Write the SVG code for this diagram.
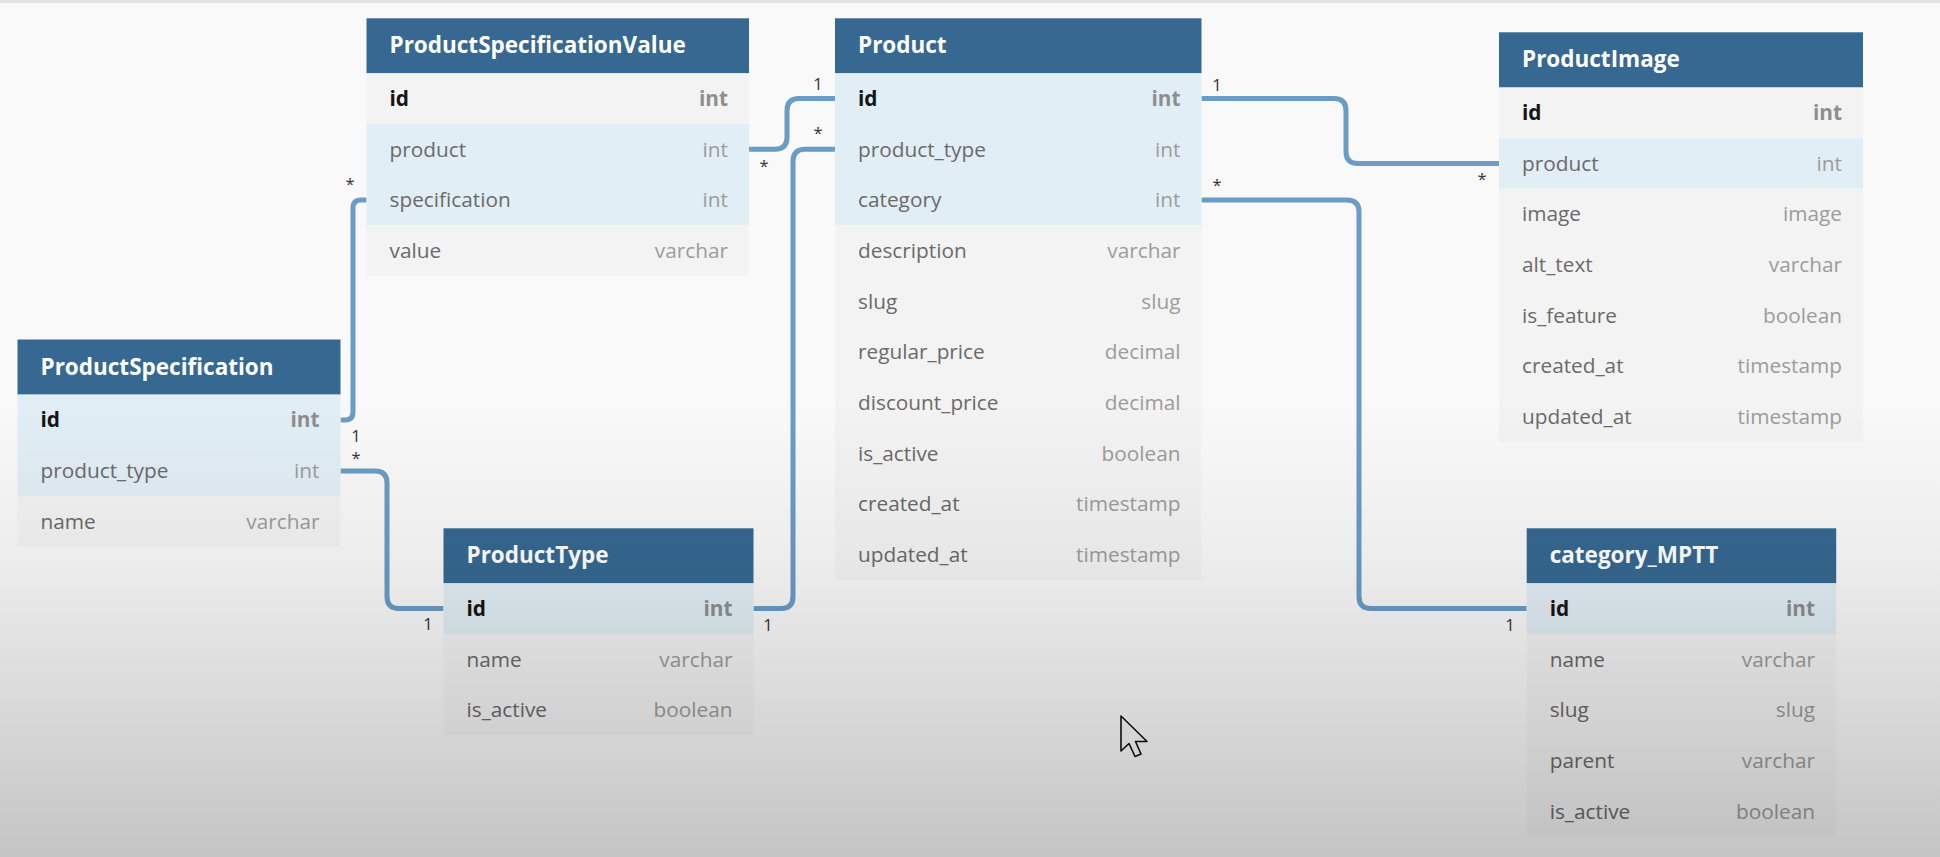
<svg xmlns="http://www.w3.org/2000/svg" width="1940" height="857" viewBox="0 0 1940 857">
<defs>
<style>
.hdr{fill:#366891}
.row{fill:#f3f3f3}
.key{fill:#e2eef5}
.ht{font-family:"Open Sans","Noto Sans",sans-serif;font-weight:700;font-size:22.5px;fill:#ffffff}
.f{font-family:"Open Sans","Noto Sans",sans-serif;font-size:20.8px;fill:#6a6a6a}
.t{font-family:"Open Sans","Noto Sans",sans-serif;font-size:20.8px;fill:#9c9c9c;text-anchor:end}
.fk{font-family:"Open Sans","Noto Sans",sans-serif;font-size:20.8px;font-weight:700;fill:#151515}
.tk{font-family:"Open Sans","Noto Sans",sans-serif;font-size:20.8px;font-weight:700;fill:#8e8e8e;text-anchor:end}
.lbl{font-family:"Open Sans","Noto Sans",sans-serif;font-size:16.5px;fill:#333333;text-anchor:middle}
.conn{fill:none;stroke:#6a9cc5;stroke-width:5;stroke-linejoin:round}
</style>
<linearGradient id="shade" gradientUnits="userSpaceOnUse" x1="0" y1="400" x2="0" y2="857">
<stop offset="0" stop-color="#000" stop-opacity="0"/>
<stop offset="0.35" stop-color="#000" stop-opacity="0.05"/>
<stop offset="1" stop-color="#000" stop-opacity="0.21"/>
</linearGradient>
</defs>
<rect x="0" y="0" width="1940" height="857" fill="#f9f9f9"/>
<rect x="0" y="0" width="1940" height="3" fill="#e2e2e2"/>

<g id="connectors">
<path class="conn" d="M340.5,420 H345 Q353,420 353,412 V208 Q353,200 361,200 H366.5"/>
<path class="conn" d="M340.5,471 H375 Q387,471 387,483 V596.6 Q387,608.6 399,608.6 H443.5"/>
<path class="conn" d="M753.5,608.6 H781 Q793,608.6 793,596.6 V161.3 Q793,149.3 805,149.3 H835"/>
<path class="conn" d="M749,149.3 H775 Q787,149.3 787,137.3 V110.6 Q787,98.6 799,98.6 H835"/>
<path class="conn" d="M1201.5,98.6 H1334 Q1346,98.6 1346,110.6 V151.5 Q1346,163.5 1358,163.5 H1499"/>
<path class="conn" d="M1201.5,200 H1347 Q1359,200 1359,212 V596.6 Q1359,608.6 1371,608.6 H1526.7"/>
<text class="lbl" x="350" y="190">*</text>
<text class="lbl" x="356" y="441.5">1</text>
<text class="lbl" x="356" y="464">*</text>
<text class="lbl" x="428" y="630">1</text>
<text class="lbl" x="768" y="631">1</text>
<text class="lbl" x="764" y="172">*</text>
<text class="lbl" x="818" y="90">1</text>
<text class="lbl" x="818" y="139">*</text>
<text class="lbl" x="1217" y="90.5">1</text>
<text class="lbl" x="1217" y="191">*</text>
<text class="lbl" x="1482" y="185">*</text>
<text class="lbl" x="1510" y="631">1</text>
</g>

<g id="ProductSpecificationValue">
<rect class="hdr" x="366.5" y="18.3" width="382.5" height="55"/>
<rect class="row" x="366.5" y="73.3" width="382.5" height="50.7"/>
<rect class="key" x="366.5" y="124" width="382.5" height="101.3"/>
<rect class="row" x="366.5" y="225.3" width="382.5" height="50.7"/>
<text class="ht" x="389.5" y="53.3">ProductSpecificationValue</text>
<text class="fk" x="389.5" y="105.9">id</text><text class="tk" x="728" y="105.9">int</text>
<text class="f" x="389.5" y="156.6">product</text><text class="t" x="728" y="156.6">int</text>
<text class="f" x="389.5" y="207.3">specification</text><text class="t" x="728" y="207.3">int</text>
<text class="f" x="389.5" y="257.9">value</text><text class="t" x="728" y="257.9">varchar</text>
</g>

<g id="Product">
<rect class="hdr" x="835" y="18.3" width="366.5" height="55"/>
<rect class="key" x="835" y="73.3" width="366.5" height="152"/>
<rect class="row" x="835" y="225.3" width="366.5" height="354.5"/>
<text class="ht" x="858" y="53.3">Product</text>
<text class="fk" x="858" y="105.9">id</text><text class="tk" x="1180.5" y="105.9">int</text>
<text class="f" x="858" y="156.6">product_type</text><text class="t" x="1180.5" y="156.6">int</text>
<text class="f" x="858" y="207.2">category</text><text class="t" x="1180.5" y="207.2">int</text>
<text class="f" x="858" y="257.9">description</text><text class="t" x="1180.5" y="257.9">varchar</text>
<text class="f" x="858" y="308.5">slug</text><text class="t" x="1180.5" y="308.5">slug</text>
<text class="f" x="858" y="359.2">regular_price</text><text class="t" x="1180.5" y="359.2">decimal</text>
<text class="f" x="858" y="409.8">discount_price</text><text class="t" x="1180.5" y="409.8">decimal</text>
<text class="f" x="858" y="460.5">is_active</text><text class="t" x="1180.5" y="460.5">boolean</text>
<text class="f" x="858" y="511.1">created_at</text><text class="t" x="1180.5" y="511.1">timestamp</text>
<text class="f" x="858" y="561.8">updated_at</text><text class="t" x="1180.5" y="561.8">timestamp</text>
</g>

<g id="ProductImage">
<rect class="hdr" x="1499" y="32.3" width="364" height="55.2"/>
<rect class="row" x="1499" y="87.5" width="364" height="50.7"/>
<rect class="key" x="1499" y="138.2" width="364" height="50.6"/>
<rect class="row" x="1499" y="188.8" width="364" height="253.2"/>
<text class="ht" x="1522" y="67.3">ProductImage</text>
<text class="fk" x="1522" y="120.1">id</text><text class="tk" x="1842" y="120.1">int</text>
<text class="f" x="1522" y="170.8">product</text><text class="t" x="1842" y="170.8">int</text>
<text class="f" x="1522" y="221.4">image</text><text class="t" x="1842" y="221.4">image</text>
<text class="f" x="1522" y="272.1">alt_text</text><text class="t" x="1842" y="272.1">varchar</text>
<text class="f" x="1522" y="322.7">is_feature</text><text class="t" x="1842" y="322.7">boolean</text>
<text class="f" x="1522" y="373.4">created_at</text><text class="t" x="1842" y="373.4">timestamp</text>
<text class="f" x="1522" y="424">updated_at</text><text class="t" x="1842" y="424">timestamp</text>
</g>

<g id="ProductSpecification">
<rect class="hdr" x="17.5" y="339.5" width="323" height="55.1"/>
<rect class="key" x="17.5" y="394.6" width="323" height="101.3"/>
<rect class="row" x="17.5" y="495.9" width="323" height="50.7"/>
<text class="ht" x="40.5" y="374.5">ProductSpecification</text>
<text class="fk" x="40.5" y="427.2">id</text><text class="tk" x="319.5" y="427.2">int</text>
<text class="f" x="40.5" y="477.9">product_type</text><text class="t" x="319.5" y="477.9">int</text>
<text class="f" x="40.5" y="528.5">name</text><text class="t" x="319.5" y="528.5">varchar</text>
</g>

<g id="ProductType">
<rect class="hdr" x="443.5" y="528.3" width="310" height="55"/>
<rect class="key" x="443.5" y="583.3" width="310" height="50.7"/>
<rect class="row" x="443.5" y="634" width="310" height="101"/>
<text class="ht" x="466.5" y="563.3">ProductType</text>
<text class="fk" x="466.5" y="615.9">id</text><text class="tk" x="732.5" y="615.9">int</text>
<text class="f" x="466.5" y="666.6">name</text><text class="t" x="732.5" y="666.6">varchar</text>
<text class="f" x="466.5" y="717.2">is_active</text><text class="t" x="732.5" y="717.2">boolean</text>
</g>

<g id="category_MPTT">
<rect class="hdr" x="1526.7" y="528.3" width="309.5" height="55"/>
<rect class="key" x="1526.7" y="583.3" width="309.5" height="50.7"/>
<rect class="row" x="1526.7" y="634" width="309.5" height="202.6"/>
<text class="ht" x="1549.7" y="563.3">category_MPTT</text>
<text class="fk" x="1549.7" y="615.9">id</text><text class="tk" x="1815" y="615.9">int</text>
<text class="f" x="1549.7" y="666.6">name</text><text class="t" x="1815" y="666.6">varchar</text>
<text class="f" x="1549.7" y="717.2">slug</text><text class="t" x="1815" y="717.2">slug</text>
<text class="f" x="1549.7" y="767.9">parent</text><text class="t" x="1815" y="767.9">varchar</text>
<text class="f" x="1549.7" y="818.5">is_active</text><text class="t" x="1815" y="818.5">boolean</text>
</g>

<polygon points="1121,716 1121,751 1129,743.5 1135,756.5 1141,754 1135.5,741.5 1147,741.5" fill="none" stroke="#111111" stroke-width="1.6" stroke-linejoin="round"/>
<rect x="0" y="400" width="1940" height="457" fill="url(#shade)"/>
</svg>
